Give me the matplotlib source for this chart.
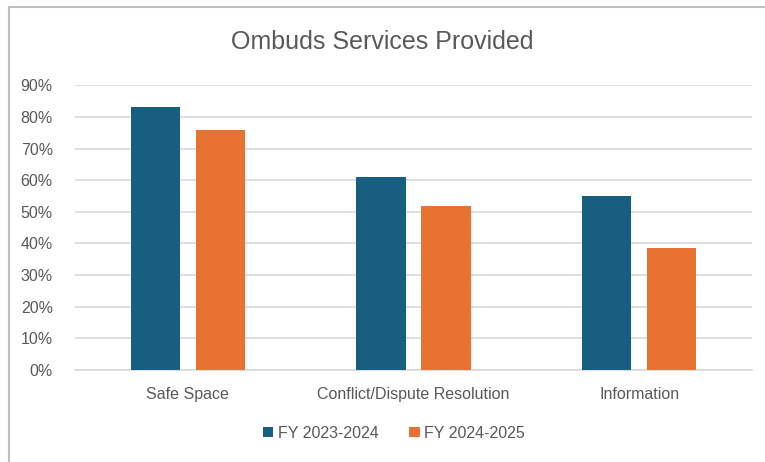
import matplotlib.pyplot as plt
import numpy as np
from matplotlib.lines import Line2D
from matplotlib.ticker import PercentFormatter

plt.rcParams['font.family'] = ['Liberation Sans Narrow', 'Liberation Sans', 'DejaVu Sans']

# Data
categories = ['Safe Space', 'Conflict/Dispute Resolution', 'Information']
fy_2324 = [0.83, 0.61, 0.55]
fy_2425 = [0.76, 0.52, 0.385]
series_names = ['FY 2023-2024', 'FY 2024-2025']

blue = '#175E80'
orange = '#E87232'
text_col = '#595959'
grid_col = '#D9D9D9'

fig = plt.figure(figsize=(7.65, 4.62), dpi=100)
ax = fig.add_axes([75 / 765, 1 - 370 / 462, 677 / 765, (370 - 85.3) / 462])

x = np.arange(len(categories))
width = 0.22
offset = 0.144
ax.bar(x - offset, fy_2324, width, color=blue, label=series_names[0], zorder=3)
ax.bar(x + offset, fy_2425, width, color=orange, label=series_names[1], zorder=3)

ax.set_xlim(-0.5, len(categories) - 0.5)
ax.set_ylim(0, 0.9)
ax.set_yticks(np.arange(0, 0.91, 0.1))
ax.yaxis.set_major_formatter(PercentFormatter(1.0, decimals=0))
ax.set_xticks(x)
ax.set_xticklabels(categories)

ax.grid(axis='y', color=grid_col, linewidth=1.2, zorder=0)
for side in ['top', 'right', 'left']:
    ax.spines[side].set_visible(False)
ax.spines['bottom'].set_color(grid_col)
ax.spines['bottom'].set_linewidth(1.2)
ax.tick_params(axis='both', length=0, labelsize=11.5, colors=text_col)
ax.tick_params(axis='y', pad=16)
ax.tick_params(axis='x', pad=12)

fig.text(0.5, 1 - 42 / 462, 'Ombuds Services Provided', ha='center', va='center',
         fontsize=18, color=text_col)

fig.legend(loc='center', bbox_to_anchor=(0.515, 1 - 433 / 462), ncol=2, frameon=False,
           fontsize=11.5, handlelength=0.65, handleheight=0.65, handletextpad=0.3,
           columnspacing=1.9, labelcolor=text_col)

# chart frame (top and left edges)
fig.add_artist(Line2D([8.5 / 765, 1], [1 - 6.5 / 462, 1 - 6.5 / 462],
                      transform=fig.transFigure, color='#BFBFBF', linewidth=1.5))
fig.add_artist(Line2D([8.5 / 765, 8.5 / 765], [0, 1 - 6.5 / 462],
                      transform=fig.transFigure, color='#BFBFBF', linewidth=1.5))

fig.savefig('out.png', dpi=100)
